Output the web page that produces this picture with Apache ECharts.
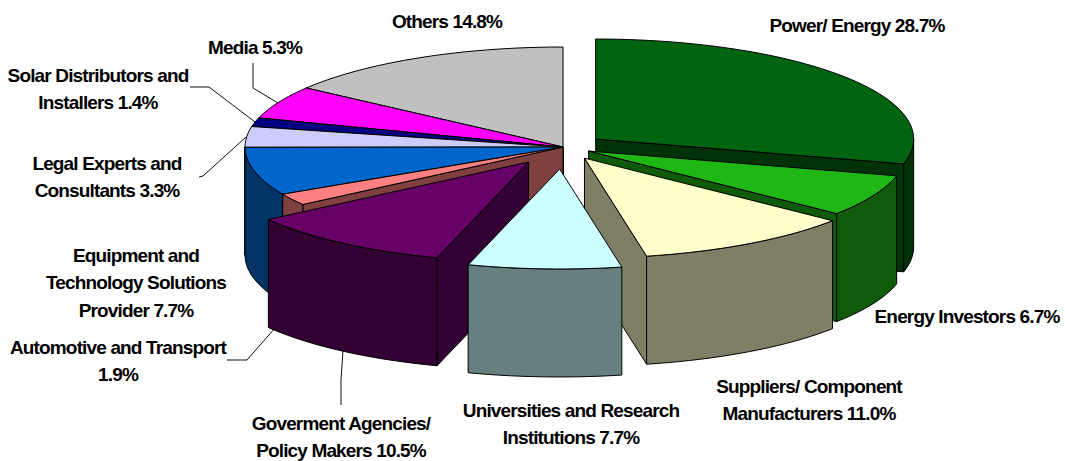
<!DOCTYPE html>
<html>
<head>
<meta charset="utf-8">
<title>Exploded 3D pie</title>
<style>
  html, body { margin: 0; padding: 0; background: #fff; }
  #chart { width: 1065px; height: 461px; letter-spacing: -0.85px; }
</style>
<script src="https://cdn.jsdelivr.net/npm/echarts@6/dist/echarts.min.js"></script>
</head>
<body>
<div id="chart"></div>
<script>
// clockwise from 12 o'clock
const categories = ['Power/ Energy', 'Energy Investors', 'Suppliers/ Component Manufacturers',
  'Universities and Research Institutions', 'Goverment Agencies/ Policy Makers', 'Automotive and Transport',
  'Equipment and Technology Solutions Provider', 'Legal Experts and Consultants',
  'Solar Distributors and Installers', 'Media', 'Others'];
const shares = [28.7, 6.7, 11.0, 7.7, 10.5, 1.9, 7.7, 3.3, 1.4, 5.3, 14.8];
const colors = ['#006411', '#1fb714', '#ffffcc', '#ccffff', '#660066', '#ff8080', '#0066cc', '#ccccff', '#000080', '#ff00ff', '#c0c0c0'];
const explode = [0.13, 0.09, 0.13, 0.22, 0.185, 0, 0, 0, 0, 0, 0];
// back to front
const drawOrder = [10, 9, 8, 7, 6, 5, 0, 1, 2, 4, 3];

const labelLines = [
  ['Power/ Energy 28.7%'],
  ['Energy Investors 6.7%'],
  ['Suppliers/ Component', 'Manufacturers 11.0%'],
  ['Universities and Research', 'Institutions 7.7%'],
  ['Goverment Agencies/', 'Policy Makers 10.5%'],
  ['Automotive and Transport', '1.9%'],
  ['Equipment and', 'Technology Solutions', 'Provider 7.7%'],
  ['Legal Experts and', 'Consultants 3.3%'],
  ['Solar Distributors and', 'Installers 1.4%'],
  ['Media 5.3%'],
  ['Others 14.8%']
];
const labelX = [857, 967, 809, 571, 341, 118, 136, 107, 98, 255, 447];
const labelY = [25, 316, 386, 410, 423, 347, 255, 163, 75, 47, 21];
const lineHeight = 27.5;

const leaders = [
  [[253, 63], [253, 88], [278, 103]],
  [[190, 87], [209, 87], [255, 122]],
  [[199, 177], [203, 176], [246, 137]],
  [[227, 360], [247, 360], [275, 328]],
  [[341, 405], [341, 380], [343, 350]]
];

const cx = 563, cy = 147, rx = 318, ry = 100, depth = 108;

const total = shares.reduce((a, b) => a + b, 0);
const slices = [];
let acc = 0;
shares.forEach((v, i) => {
  const a0 = acc / total * 360;
  acc += v;
  const a1 = acc / total * 360;
  const mid = (a0 + a1) / 2 * Math.PI / 180;
  slices.push({
    a0, a1,
    ax: cx + explode[i] * rx * Math.sin(mid),
    ay: cy - explode[i] * ry * Math.cos(mid)
  });
});

function darken(hex) {
  const n = parseInt(hex.slice(1), 16);
  const c = s => ((n >> s) & 255) >> 1;
  return `rgb(${c(16)},${c(8)},${c(0)})`;
}

function rimPoint(s, deg, drop) {
  const t = deg * Math.PI / 180;
  return [s.ax + rx * Math.sin(t), s.ay - ry * Math.cos(t) + drop];
}

function arc(s, from, to, drop) {
  const pts = [];
  const n = Math.max(2, Math.ceil((to - from) / 2));
  for (let k = 0; k <= n; k++) {
    pts.push(rimPoint(s, from + (to - from) * k / n, drop));
  }
  return pts;
}

function radialWall(s, deg) {
  return [[s.ax, s.ay], rimPoint(s, deg, 0), rimPoint(s, deg, depth), [s.ax, s.ay + depth]];
}

function renderSlice(params, api) {
  const i = api.value(0);
  const s = slices[i];
  const wall = darken(colors[i]);
  const polys = [];
  // only the walls that face the viewer
  if (s.a0 > 180) polys.push([radialWall(s, s.a0), wall]);
  if (s.a1 < 180) polys.push([radialWall(s, s.a1), wall]);
  const from = Math.max(s.a0, 90), to = Math.min(s.a1, 270);
  if (from < to) {
    polys.push([arc(s, from, to, 0).concat(arc(s, from, to, depth).reverse()), wall]);
  }
  polys.push([[[s.ax, s.ay]].concat(arc(s, s.a0, s.a1, 0)), colors[i]]);
  return {
    type: 'group',
    children: polys.map((p, k) => ({
      type: 'polygon',
      z2: params.dataIndex * 10 + k,
      shape: { points: p[0] },
      style: { fill: p[1], stroke: '#000', lineWidth: 1, lineJoin: 'round' }
    }))
  };
}

const graphics = [];
leaders.forEach(pts => {
  graphics.push({
    type: 'polyline',
    shape: { points: pts },
    style: { fill: null, stroke: '#111', lineWidth: 1 }
  });
});
labelLines.forEach((lines, i) => {
  lines.forEach((txt, k) => {
    graphics.push({
      type: 'text',
      x: labelX[i],
      y: labelY[i] + k * lineHeight,
      style: {
        text: txt,
        fill: '#000',
        font: 'bold 19px "Liberation Sans", Arial, sans-serif',
        align: 'center',
        verticalAlign: 'middle'
      }
    });
  });
});

const chart = echarts.init(document.getElementById('chart'), null, { renderer: 'svg' });
chart.setOption({
  animation: false,
  backgroundColor: '#fff',
  series: [{
    type: 'custom',
    coordinateSystem: 'none',
    silent: true,
    data: drawOrder.map(i => ({ name: categories[i], value: [i, shares[i]] })),
    renderItem: renderSlice
  }],
  graphic: { elements: graphics }
});
</script>
</body>
</html>
